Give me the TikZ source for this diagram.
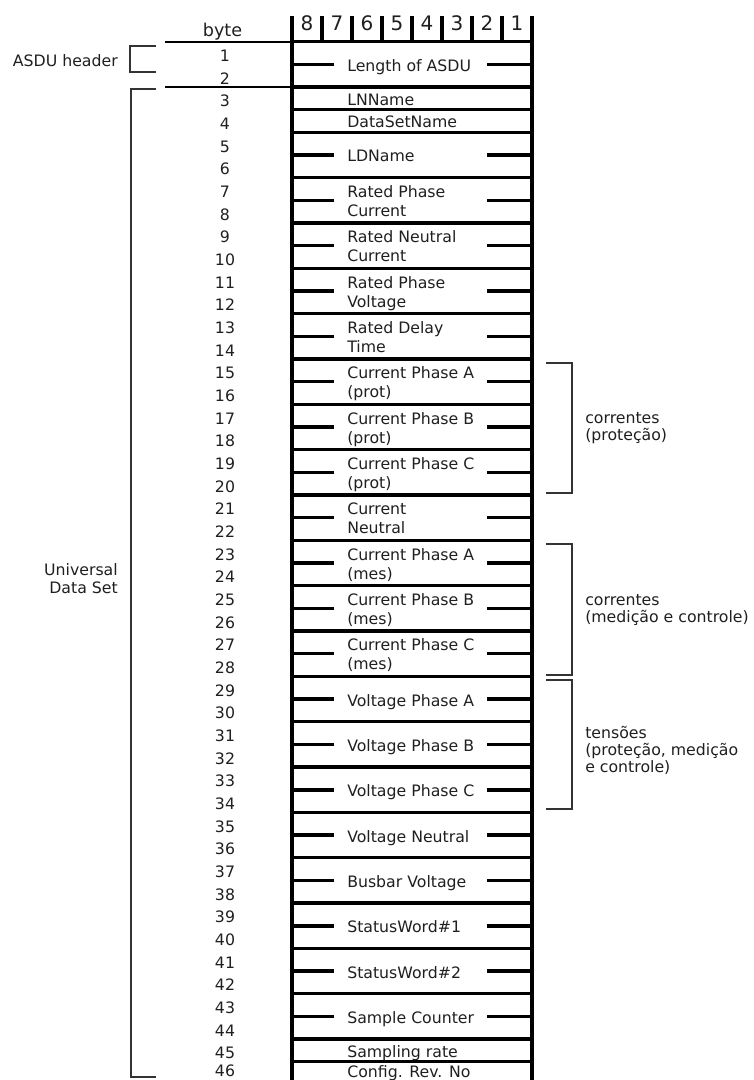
\documentclass[tikz,border=0pt]{standalone}
\usepackage{fontspec}
\setmainfont{DejaVu Sans}
\begin{document}
\begin{tikzpicture}[x=0.75pt,y=-0.75pt,
  txt/.style={font=\fontsize{11.8}{14.25}\selectfont, inner sep=0pt, text=black!88},
  fieldlbl/.style={txt, anchor=base west},
  bytenum/.style={txt, anchor=base},
  bitnum/.style={font=\fontsize{15}{18}\selectfont, inner sep=0pt, anchor=base, text=black!88},
  outer/.style={line width=3pt},
  sepline/.style={line width=2.5pt},
  tick/.style={line width=2.6pt},
  rule/.style={line width=1.6pt},
  bracket/.style={line width=1.5pt, draw=black!80},
]
\useasboundingbox (0,0) rectangle (753,1080);
\clip (0,0) rectangle (753,1080);

% bit numbers of the header
\foreach \i in {0,...,7} {
  \pgfmathtruncatemacro\d{8-\i}
  \node[bitnum] (bit\d) at ({307+30*\i},31) {\d};
}
\foreach \i in {1,...,7}
  \draw[outer] ({292+30*\i},16) -- ({292+30*\i},41.65);

% outer walls of the frame
\draw[outer] (292,16) -- (292,1090);
\draw[outer] (532,16) -- (532,1090);

% field boundaries
\foreach \n in {1,3,4,5,7,9,...,43,45,46,47}
  \draw[sepline] (292,{41.65+22.67*(\n-1)}) -- (532,{41.65+22.67*(\n-1)});

% two-byte fields, one text line
\foreach \n/\t in {1/Length of ASDU, 5/LDName, 29/Voltage Phase A,
                   31/Voltage Phase B, 33/Voltage Phase C, 35/Voltage Neutral,
                   37/Busbar Voltage, 39/StatusWord\#1, 41/StatusWord\#2,
                   43/Sample Counter} {
  \pgfmathsetmacro\c{41.65+22.67*\n}
  \node[fieldlbl] (f\n) at (347,\c+7) {\t};
  \draw[tick] (292,\c) -- (334,\c);
  \draw[tick] (487,\c) -- (532,\c);
}

% two-byte fields, two text lines
\foreach \n/\a/\b in {7/Rated Phase/Current, 9/Rated Neutral/Current,
                      11/Rated Phase/Voltage, 13/Rated Delay/Time,
                      15/Current Phase A/(prot), 17/Current Phase B/(prot),
                      19/Current Phase C/(prot), 21/Current/Neutral,
                      23/Current Phase A/(mes), 25/Current Phase B/(mes),
                      27/Current Phase C/(mes)} {
  \pgfmathsetmacro\c{41.65+22.67*\n}
  \node[fieldlbl] (f\n) at (347,\c-3)
    {\begin{tabular}[t]{@{}l@{}}\a\\\b\end{tabular}};
  \draw[tick] (292,\c) -- (334,\c);
  \draw[tick] (487,\c) -- (532,\c);
}

% one-byte fields
\foreach \n/\t in {3/LNName, 4/DataSetName, 45/Sampling rate} {
  \pgfmathsetmacro\c{41.65+22.67*(\n-0.5)}
  \node[fieldlbl] (f\n) at (347,\c+7) {\t};
}
\node[fieldlbl] (f46) at (347,1077) {Config. Rev. No};

% byte column
\node[font=\fontsize{13.2}{16}\selectfont, inner sep=0pt, anchor=base, text=black!88]
  (bytehdr) at (222.5,36.7) {byte};
\foreach \n in {1,...,45}
  \node[bytenum] (b\n) at (225,{41.65+22.67*(\n-0.5)+8.5}) {\n};
\node[bytenum] (b46) at (225,1076.5) {46};
\draw[rule] (165,41.65) -- (292,41.65);
\draw[rule] (165,87) -- (292,87);

% left braces
\draw[bracket] (156,46) -- (130,46) -- (130,72) -- (156,72);
\draw[bracket] (156,89.5) -- (131,89.5) -- (131,1077) -- (156,1077);
\node[txt, anchor=base east] (asdu) at (118,67) {ASDU header};
\node[txt, anchor=base east, font=\fontsize{11.8}{13.5}\selectfont] (uds) at (118,575)
  {\begin{tabular}[t]{@{}r@{}}Universal\\Data Set\end{tabular}};

% right braces
\draw[bracket] (546,363) -- (572,363) -- (572,493) -- (546,493);
\draw[bracket] (546,544) -- (572,544) -- (572,675) -- (546,675);
\draw[bracket] (546,680) -- (572,680) -- (572,809) -- (546,809);
\node[txt, anchor=base west, font=\fontsize{11.8}{13.1}\selectfont] (cprot) at (585,423)
  {\begin{tabular}[t]{@{}l@{}}correntes\\(proteção)\end{tabular}};
\node[txt, anchor=base west, font=\fontsize{11.8}{13.1}\selectfont] (cmes) at (585,605)
  {\begin{tabular}[t]{@{}l@{}}correntes\\(medição e controle)\end{tabular}};
\node[txt, anchor=base west, font=\fontsize{11.8}{13.1}\selectfont] (tens) at (585,738)
  {\begin{tabular}[t]{@{}l@{}}tensões\\(proteção, medição\\e controle)\end{tabular}};
\end{tikzpicture}
\end{document}
